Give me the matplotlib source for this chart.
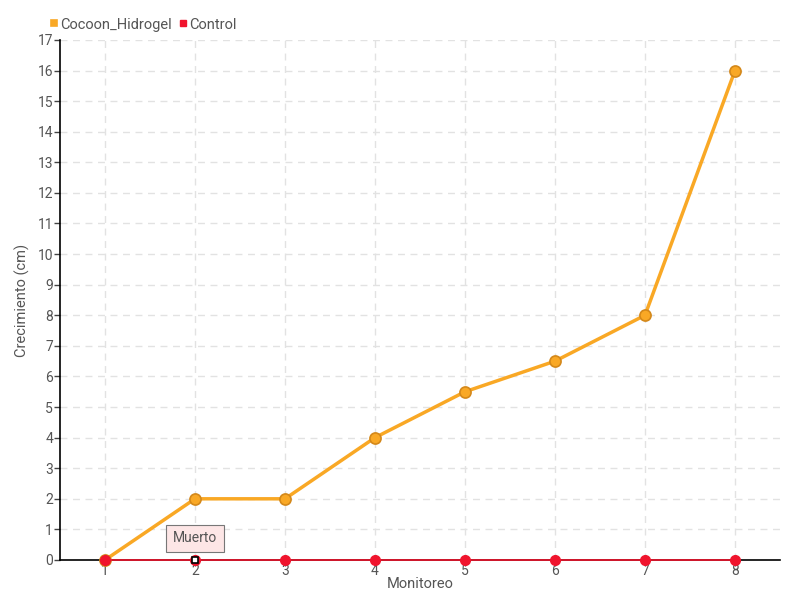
import matplotlib
matplotlib.use("Agg")
import matplotlib.pyplot as plt

plt.rcParams['font.family'] = ['Roboto', 'DejaVu Sans']

monitoreo = [1, 2, 3, 4, 5, 6, 7, 8]
cocoon = [0, 2, 2, 4, 5.5, 6.5, 8, 16]
control = [0, 0, 0, 0, 0, 0, 0, 0]
series_names = ["Cocoon_Hidrogel", "Control"]
tooltip_text = "Muerto"

ORANGE = "#f9a825"
ORANGE_EDGE = "#d4881a"
RED = "#f0142d"
TXT = "#555555"

fig = plt.figure(figsize=(8, 6), dpi=100)
ax = fig.add_axes([0.075, 0.0667, 0.9, 0.8667])

ax.plot(monitoreo, cocoon, color=ORANGE, lw=2.5, marker="o", ms=8,
        mfc=ORANGE, mec=ORANGE_EDGE, mew=1.2, zorder=3, label=series_names[0],
        clip_on=False)
ax.plot(monitoreo, control, color=RED, lw=1.2, marker="o", ms=7,
        mfc=RED, mec=RED, zorder=4, label=series_names[1], clip_on=False)
# highlighted point
ax.plot(monitoreo[1], control[1], marker="s", ms=5, mfc="white", mec="black",
        mew=1.2, zorder=5, clip_on=False)

ax.set_xlim(0.5, 8.5)
ax.set_ylim(0, 17)
ax.set_xticks(monitoreo)
ax.set_yticks(range(0, 18))
ax.grid(True, color="#e2e2e2", ls=(0, (5, 4)), lw=1)
ax.set_axisbelow(True)
for s in ["top", "right"]:
    ax.spines[s].set_visible(False)
for s in ["left", "bottom"]:
    ax.spines[s].set_color("black")
    ax.spines[s].set_linewidth(1.2)
ax.tick_params(axis="both", length=4, width=1, colors="#444444", labelsize=10,
               labelcolor=TXT, pad=1)
ax.tick_params(axis="x", pad=-1)
ax.set_xlabel("Monitoreo", fontsize=10.5, color=TXT, labelpad=-1)
ax.set_ylabel("Crecimiento (cm)", fontsize=10.5, color=TXT)
ax.yaxis.set_label_coords(-0.042, 0.5)

# tooltip
ax.annotate(tooltip_text, xy=(monitoreo[1], control[1]), xytext=(0, 15.5),
            textcoords="offset points", ha="center", va="center",
            fontsize=10, color="#555555",
            bbox=dict(boxstyle="square,pad=0.5", fc="#fde6e6", ec="#777777", lw=0.8),
            zorder=6, annotation_clip=False)

# legend
leg = ax.legend(loc="lower left", bbox_to_anchor=(-0.02, 1.005), ncol=2, frameon=False,
                handlelength=0.4, handletextpad=0.2, columnspacing=0.6,
                fontsize=10.5, labelcolor=TXT, borderaxespad=0)
for h, c in zip(leg.legend_handles, [ORANGE, RED]):
    h.set_linestyle("none")
    h.set_marker("s")
    h.set_markersize(5)
    h.set_markerfacecolor(c)
    h.set_markeredgecolor(c)

fig.savefig("out.png", dpi=100)
